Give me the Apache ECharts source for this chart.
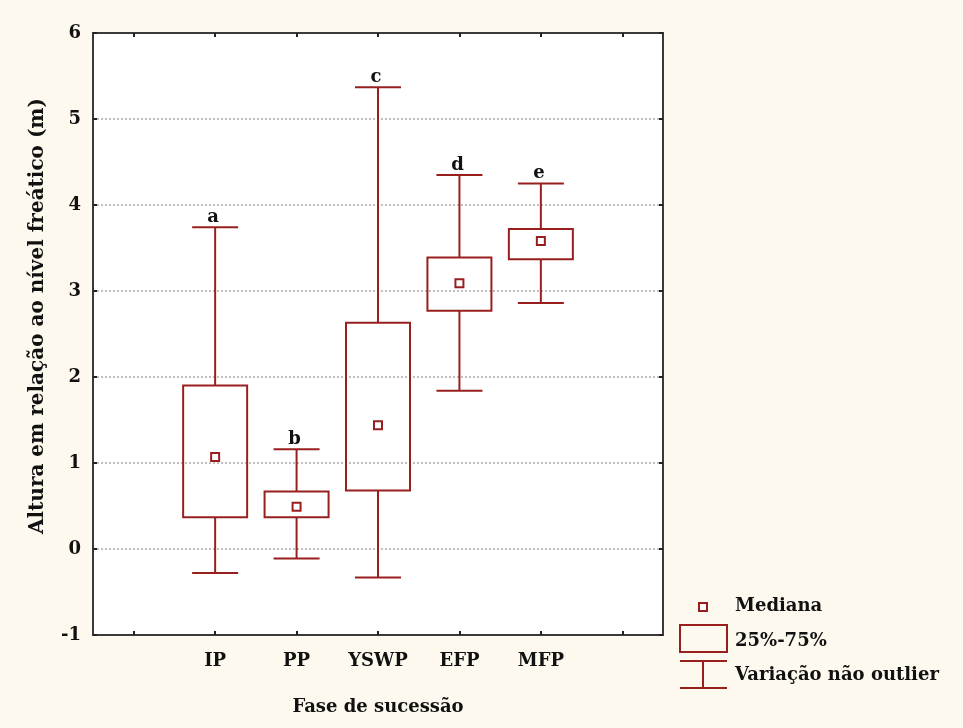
<!DOCTYPE html>
<html lang="pt">
<head>
    <meta charset="UTF-8">
    <title>Fase de sucessão</title>
    <script src="https://cdn.jsdelivr.net/npm/echarts@6/dist/echarts.min.js"></script>
    <style>
        body { margin: 0; background: #fef9ee; }
    </style>
</head>
<body>
<div id="main" style="width: 963px;height:728px;"></div>
<script type="text/javascript">
    // dados
    var categories = ['IP', 'PP', 'YSWP', 'EFP', 'MFP'];
    var lowWhisker = [-0.28, -0.11, -0.33, 1.84, 2.86];
    var q1 = [0.37, 0.37, 0.68, 2.77, 3.37];
    var median = [1.07, 0.49, 1.44, 3.09, 3.58];
    var q3 = [1.90, 0.67, 2.63, 3.39, 3.72];
    var highWhisker = [3.74, 1.16, 5.37, 4.35, 4.25];
    var letters = ['a', 'b', 'c', 'd', 'e'];
    var yTicks = [-1, 0, 1, 2, 3, 4, 5, 6];

    var red = '#991f1f';
    var font = 'DejaVu Serif';

    // eixo com uma categoria vazia em cada ponta
    var xCats = [''].concat(categories).concat(['']);

    var boxData = categories.map(function (c, i) {
        return [i + 1, lowWhisker[i], q1[i], median[i], q3[i], highWhisker[i], letters[i]];
    });

    var myChart = echarts.init(document.getElementById('main'));

    function renderBox(params, api) {
        var x = api.value(0);
        var pLow = api.coord([x, api.value(1)]);
        var pQ1 = api.coord([x, api.value(2)]);
        var pMed = api.coord([x, api.value(3)]);
        var pQ3 = api.coord([x, api.value(4)]);
        var pHigh = api.coord([x, api.value(5)]);
        var cx = pLow[0];
        var bw = 64, cw = 46, ms = 8;
        var line = {stroke: red, lineWidth: 2};
        return {
            type: 'group',
            children: [
                {type: 'line', shape: {x1: cx, y1: pLow[1], x2: cx, y2: pQ1[1]}, style: line},
                {type: 'line', shape: {x1: cx, y1: pQ3[1], x2: cx, y2: pHigh[1]}, style: line},
                {type: 'line', shape: {x1: cx - cw / 2, y1: pLow[1], x2: cx + cw / 2, y2: pLow[1]}, style: line},
                {type: 'line', shape: {x1: cx - cw / 2, y1: pHigh[1], x2: cx + cw / 2, y2: pHigh[1]}, style: line},
                {
                    type: 'rect',
                    shape: {x: cx - bw / 2, y: pQ3[1], width: bw, height: pQ1[1] - pQ3[1]},
                    style: {stroke: red, lineWidth: 2, fill: 'none'}
                },
                {
                    type: 'rect',
                    shape: {x: cx - ms / 2, y: pMed[1] - ms / 2, width: ms, height: ms},
                    style: {stroke: red, lineWidth: 2, fill: '#fff'}
                },
                {
                    type: 'text',
                    x: cx - 2, y: pHigh[1] - 1,
                    style: {
                        text: api.value(6), fill: '#111', font: 'bold 18px "' + font + '"',
                        align: 'center', verticalAlign: 'bottom'
                    }
                }
            ]
        };
    }

    var labelStyle = {color: '#111', fontFamily: font, fontWeight: 'bold', fontSize: 18};
    var frameLine = {show: true, onZero: false, lineStyle: {color: '#3a3a3a', width: 2}};
    var tickStyle = {show: true, inside: true, length: 4, lineStyle: {color: '#222', width: 2}};

    var option = {
        backgroundColor: '#fef9ee',
        animation: false,
        grid: {
            left: 93, right: 300, top: 33, bottom: 93,
            show: true, backgroundColor: '#ffffff', borderWidth: 0
        },
        xAxis: [{
            type: 'category',
            data: xCats,
            boundaryGap: true,
            axisLine: frameLine,
            axisTick: Object.assign({alignWithLabel: true}, tickStyle),
            axisLabel: Object.assign({margin: 17, interval: 0}, labelStyle),
            splitLine: {show: false},
            name: 'Fase de sucessão',
            nameLocation: 'middle',
            nameGap: 63,
            nameTextStyle: labelStyle
        }, {
            type: 'category',
            position: 'top',
            data: xCats,
            boundaryGap: true,
            axisLine: frameLine,
            axisTick: Object.assign({alignWithLabel: true}, tickStyle),
            axisLabel: {show: false}
        }],
        yAxis: [{
            type: 'value',
            min: -1, max: 6, interval: 1,
            axisLine: frameLine,
            axisTick: tickStyle,
            axisLabel: Object.assign({
                margin: 12,
                formatter: function (v) { return yTicks.indexOf(v) >= 0 ? String(v) : ''; }
            }, labelStyle),
            splitLine: {
                show: true, showMinLine: false, showMaxLine: false,
                lineStyle: {color: '#aaaaaa', type: [2, 2], width: 1.5}
            }
        }, {
            type: 'value',
            position: 'right',
            min: -1, max: 6, interval: 1,
            axisLine: frameLine,
            axisTick: tickStyle,
            axisLabel: {show: false},
            splitLine: {show: false}
        }],
        series: [{
            type: 'custom',
            renderItem: renderBox,
            data: boxData,
            encode: {x: 0, y: [1, 5]},
            clip: false
        }],
        graphic: [
            // título do eixo y
            {
                type: 'text',
                x: 38, y: 316,
                rotation: Math.PI / 2,
                style: {
                    text: 'Altura em relação ao nível freático (m)',
                    font: 'bold 20px "' + font + '"', fill: '#111',
                    align: 'center', verticalAlign: 'middle'
                }
            },
            // legenda
            {type: 'rect', shape: {x: 699, y: 603, width: 8, height: 8}, style: {stroke: red, lineWidth: 2, fill: '#fff'}},
            {type: 'text', x: 735, y: 606, style: {text: 'Mediana', font: 'bold 18px "' + font + '"', fill: '#111', verticalAlign: 'middle'}},
            {type: 'rect', shape: {x: 680, y: 625, width: 47, height: 27}, style: {stroke: red, lineWidth: 2, fill: 'none'}},
            {type: 'text', x: 735, y: 641, style: {text: '25%-75%', font: 'bold 18px "' + font + '"', fill: '#111', verticalAlign: 'middle'}},
            {type: 'line', shape: {x1: 680, y1: 661, x2: 727, y2: 661}, style: {stroke: red, lineWidth: 2}},
            {type: 'line', shape: {x1: 703, y1: 661, x2: 703, y2: 688}, style: {stroke: red, lineWidth: 2}},
            {type: 'line', shape: {x1: 680, y1: 688, x2: 727, y2: 688}, style: {stroke: red, lineWidth: 2}},
            {type: 'text', x: 735, y: 675, style: {text: 'Variação não outlier', font: 'bold 18px "' + font + '"', fill: '#111', verticalAlign: 'middle'}}
        ]
    };

    myChart.setOption(option);
</script>
</body>
</html>
